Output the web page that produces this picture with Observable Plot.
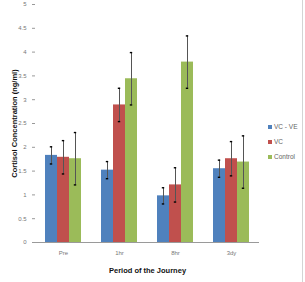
<!DOCTYPE html>
<html>
<head>
<meta charset="utf-8">
<script src="https://cdn.jsdelivr.net/npm/d3@7"></script>
<script src="https://cdn.jsdelivr.net/npm/@observablehq/plot@0.6"></script>
<style>
  html, body { margin: 0; padding: 0; background: #fff; }
  #wrap { position: relative; width: 305px; height: 282px; }
  #wrap::after { content: ""; position: absolute; left: 302px; top: 0; width: 1px; height: 282px; background: #d4d4d4; }
  #chart svg { font-family: "Liberation Sans", Arial, sans-serif; }
  #chart g[aria-label="y-axis tick label"] text,
  #chart g[aria-label="fx-axis tick label"] text { fill: #777; }
  #chart g[aria-label="y-axis tick"] path { stroke: #999; }
  #chart g[aria-label="y-axis label"] text,
  #chart g[aria-label="fx-axis label"] text { font-weight: bold; font-size: 7.5px; fill: #111; }
  #legend { position: absolute; left: 268px; top: 119px; font: 6.5px "Liberation Sans", Arial, sans-serif; color: #666; }
  #legend .row { display: flex; align-items: center; height: 15px; }
  #legend .sw { width: 4px; height: 4px; margin-right: 2px; }
</style>
</head>
<body>
<div id="wrap">
  <div id="chart"></div>
  <div id="legend"></div>
</div>
<script>
// Journey periods and treatment groups
const periods = ["Pre", "1hr", "8hr", "3dy"];
const groups = ["VC - VE", "VC", "Control"];
const colors = ["#4f81bd", "#c0504d", "#9bbb59"];

// Mean cortisol (ng/ml) per period, one array per group
const vcveMean = [1.83, 1.52, 0.98, 1.55];
const vcMean = [1.79, 2.89, 1.21, 1.76];
const controlMean = [1.76, 3.44, 3.79, 1.69];

// Error (±) per period, one array per group
const vcveErr = [0.18, 0.18, 0.17, 0.18];
const vcErr = [0.35, 0.35, 0.36, 0.36];
const controlErr = [0.55, 0.55, 0.55, 0.55];

const yTicks = [0, 0.5, 1, 1.5, 2, 2.5, 3, 3.5, 4, 4.5, 5];

const means = [vcveMean, vcMean, controlMean];
const errs = [vcveErr, vcErr, controlErr];
const rows = [];
periods.forEach((p, i) => {
  groups.forEach((g, j) => {
    rows.push({period: p, group: g, value: means[j][i], err: errs[j][i]});
  });
});

const chart = Plot.plot({
  width: 305,
  height: 282,
  marginLeft: 33,
  marginRight: 45,
  marginTop: 4,
  marginBottom: 40,
  style: {fontSize: "6px", background: "#fff"},
  fx: {domain: periods, padding: 0, tickSize: 0, tickPadding: 8, label: "Period of the Journey", labelAnchor: "center", labelOffset: 30, labelArrow: "none"},
  x: {domain: groups, paddingInner: 0, paddingOuter: 0.77, axis: null},
  y: {domain: [0, 5], ticks: yTicks, tickFormat: d => String(d), tickSize: 3, tickPadding: 6, label: "Cortisol Concentration (ng/ml)", labelAnchor: "center", labelOffset: 24, labelArrow: "none"},
  color: {domain: groups, range: colors},
  marks: [
    Plot.ruleY([0], {stroke: "#9a9a9a"}),
    Plot.barY(rows, {fx: "period", x: "group", y: "value", fill: "group"}),
    Plot.ruleX(rows, {fx: "period", x: "group", y1: d => d.value - d.err, y2: d => d.value + d.err, stroke: "#555", strokeWidth: 1}),
    Plot.tickY(rows, {fx: "period", x: "group", y: d => d.value + d.err, stroke: "#000", strokeWidth: 1.4, insetLeft: 4.8, insetRight: 4.8}),
    Plot.tickY(rows, {fx: "period", x: "group", y: d => d.value - d.err, stroke: "#000", strokeWidth: 1.4, insetLeft: 4.8, insetRight: 4.8})
  ]
});
document.getElementById("chart").append(chart);

// Legend at the right of the plot
const legend = document.getElementById("legend");
groups.forEach((g, i) => {
  const row = document.createElement("div");
  row.className = "row";
  const sw = document.createElement("span");
  sw.className = "sw";
  sw.style.background = colors[i];
  const label = document.createElement("span");
  label.textContent = g;
  row.append(sw, label);
  legend.append(row);
});
</script>
</body>
</html>
